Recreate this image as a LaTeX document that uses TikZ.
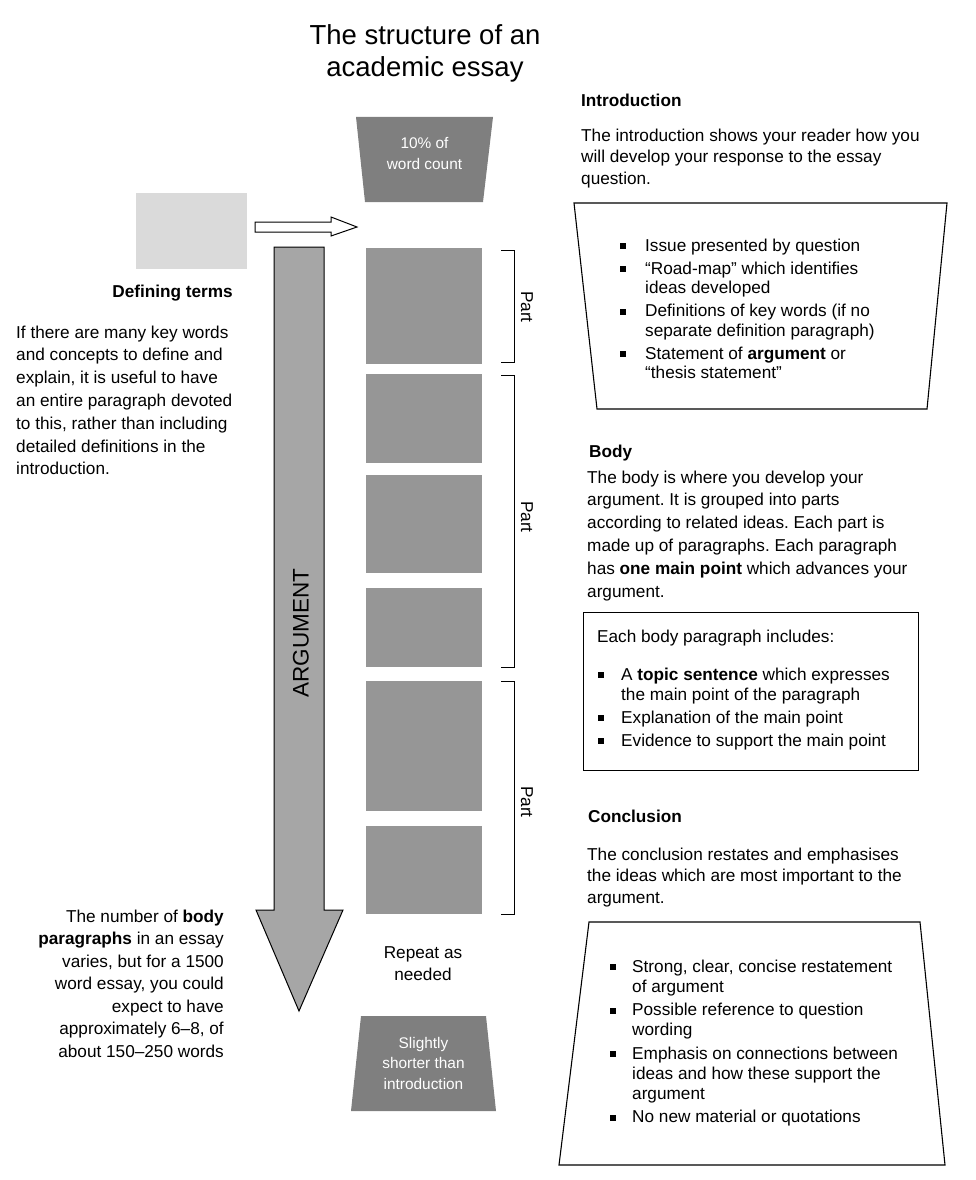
\documentclass[tikz,border=0pt]{standalone}
\usepackage{fontspec}
\setmainfont{Liberation Sans}
\definecolor{trapgray}{HTML}{7F7F7F}
\definecolor{sqgray}{HTML}{969696}
\definecolor{arrgray}{HTML}{A6A6A6}
\definecolor{lightgray2}{HTML}{DADADA}
\newcommand\bul[1]{\leavevmode\llap{\rule[2pt]{5.8pt}{5.8pt}\hspace{#1}}}
\frenchspacing
\begin{document}
\begin{tikzpicture}[x=1pt,y=-1pt,
  para/.style={anchor=north west,inner sep=0pt,align=left,font=\fontsize{17.2}{#1}\selectfont\frenchspacing},
  rpara/.style={anchor=north east,inner sep=0pt,align=right,font=\fontsize{17.2}{#1}\selectfont\frenchspacing},
  cpara/.style={anchor=north,inner sep=0pt,align=center,font=\fontsize{17.2}{#1}\selectfont},
  head/.style={anchor=base west,inner sep=0pt,font=\fontsize{17.2}{20}\selectfont\bfseries},
  traptext/.style={anchor=north,inner sep=0pt,align=center,text=white,font=\fontsize{15.4}{#1}\selectfont},
  partlabel/.style={rotate=-90,inner sep=0pt,font=\fontsize{17.2}{20}\selectfont},
  sq/.style={fill=sqgray,draw=none},
  outline/.style={draw=black,line width=1.1pt},
  brack/.style={draw=black,line width=1pt}
]
\useasboundingbox (0,0) rectangle (976,1180);

% Title
\node[cpara=32,font=\fontsize{27.5}{32}\selectfont] (title) at (425,21.6) {\strut The structure of an\\academic essay};

% Top trapezoid (introduction)
\fill[trapgray] (356,117) -- (493,117) -- (483,202) -- (365,202) -- cycle;
\node[traptext=21] (toptrap) at (424.5,133.8) {\strut 10\% of\\word count};

% Defining terms grey box and hollow arrow
\fill[lightgray2] (136,193) rectangle (247,269);
\draw[line width=1pt,fill=white] (255,222) -- (331,222) -- (331,217) -- (357,227) -- (331,236) -- (331,232) -- (255,232) -- cycle;

% Big ARGUMENT arrow
\draw[line width=1pt,fill=arrgray] (274,247) -- (324,247) -- (324,910) -- (343,910) -- (299,1011) -- (256,910) -- (274,910) -- cycle;
\node[rotate=90,inner sep=0pt,font=\fontsize{22.5}{24}\selectfont] (argument) at (301,633) {ARGUMENT};

% Paragraph squares
\fill[sq] (366,248) rectangle (482,364);
\fill[sq] (366,374) rectangle (482,463);
\fill[sq] (366,475) rectangle (482,573);
\fill[sq] (366,588) rectangle (482,667);
\fill[sq] (366,681) rectangle (482,811);
\fill[sq] (366,826) rectangle (482,914);

% Brackets
\draw[brack] (501,250) -- (514,250) -- (514,362) -- (501,362);
\draw[brack] (501,375) -- (514,375) -- (514,667) -- (501,667);
\draw[brack] (501,681) -- (514,681) -- (514,914) -- (501,914);
\node[partlabel] (part1) at (527,307) {Part};
\node[partlabel] (part2) at (527,517) {Part};
\node[partlabel] (part3) at (527,802) {Part};

% Repeat as needed
\node[cpara=22] (repeat) at (423,942.6) {\strut Repeat as\\needed};

% Bottom trapezoid (conclusion)
\fill[trapgray] (361,1016) -- (486,1016) -- (496,1111) -- (351,1111) -- cycle;
\node[traptext=20.5] (bottrap) at (423.5,1033.6) {\strut Slightly\\shorter than\\introduction};

% Left texts
\node[head,anchor=base east] (defhead) at (233,297) {Defining terms};
\node[para=22.8] (defpara) at (16,322) {\strut If there are many key words\\and concepts to define and\\explain, it is useful to have\\an entire paragraph devoted\\to this, rather than including\\detailed definitions in the\\introduction.};
\node[rpara=22.5] (bodycount) at (224,906.25) {\strut The number of \textbf{body}\\\textbf{paragraphs} in an essay\\varies, but for a 1500\\word essay, you could\\expect to have\\approximately 6–8, of\\about 150–250 words};

% Introduction
\node[head] (introhead) at (581,107) {Introduction};
\node[para=21.5] (intropara) at (581,126) {\strut The introduction shows your reader how you\\will develop your response to the essay\\question.};
\draw[outline] (574,203) -- (947,203) -- (927,409) -- (597,409) -- cycle;
\node[para=19.5] (introlist) at (645,237.35) {\strut\bul{19.5pt}Issue presented by question\\[3.5pt]
\bul{19.5pt}“Road-map” which identifies\\ideas developed\\[3.5pt]
\bul{19.5pt}Definitions of key words (if no\\separate definition paragraph)\\[3.5pt]
\bul{19.5pt}Statement of \textbf{argument} or\\“thesis statement”};

% Body
\node[head] (bodyhead) at (589,457) {Body};
\node[para=22.8] (bodypara) at (587,467) {\strut The body is where you develop your\\argument. It is grouped into parts\\according to related ideas. Each part is\\made up of paragraphs. Each paragraph\\has \textbf{one main point} which advances your\\argument.};
\draw[line width=1pt] (583,612) rectangle (918,770);
\node[anchor=base west,inner sep=0pt,font=\fontsize{17.2}{20}\selectfont] (bodyincl) at (597,642) {Each body paragraph includes:};
\node[para=20] (bodylist) at (621,666) {\strut\bul{17.5pt}A \textbf{topic sentence} which expresses\\the main point of the paragraph\\[3pt]
\bul{17.5pt}Explanation of the main point\\[3pt]
\bul{17.5pt}Evidence to support the main point};

% Conclusion
\node[head] (conchead) at (588,822) {Conclusion};
\node[para=21.5] (concpara) at (587,845) {\strut The conclusion restates and emphasises\\the ideas which are most important to the\\argument.};
\draw[outline] (589,922) -- (920,922) -- (945,1165) -- (559,1165) -- cycle;
\node[para=20] (conclist) at (632,958) {\strut\bul{16.5pt}Strong, clear, concise restatement\\of argument\\[3.5pt]
\bul{16.5pt}Possible reference to question\\wording\\[3.5pt]
\bul{16.5pt}Emphasis on connections between\\ideas and how these support the\\argument\\[3.5pt]
\bul{16.5pt}No new material or quotations};
\end{tikzpicture}
\end{document}
